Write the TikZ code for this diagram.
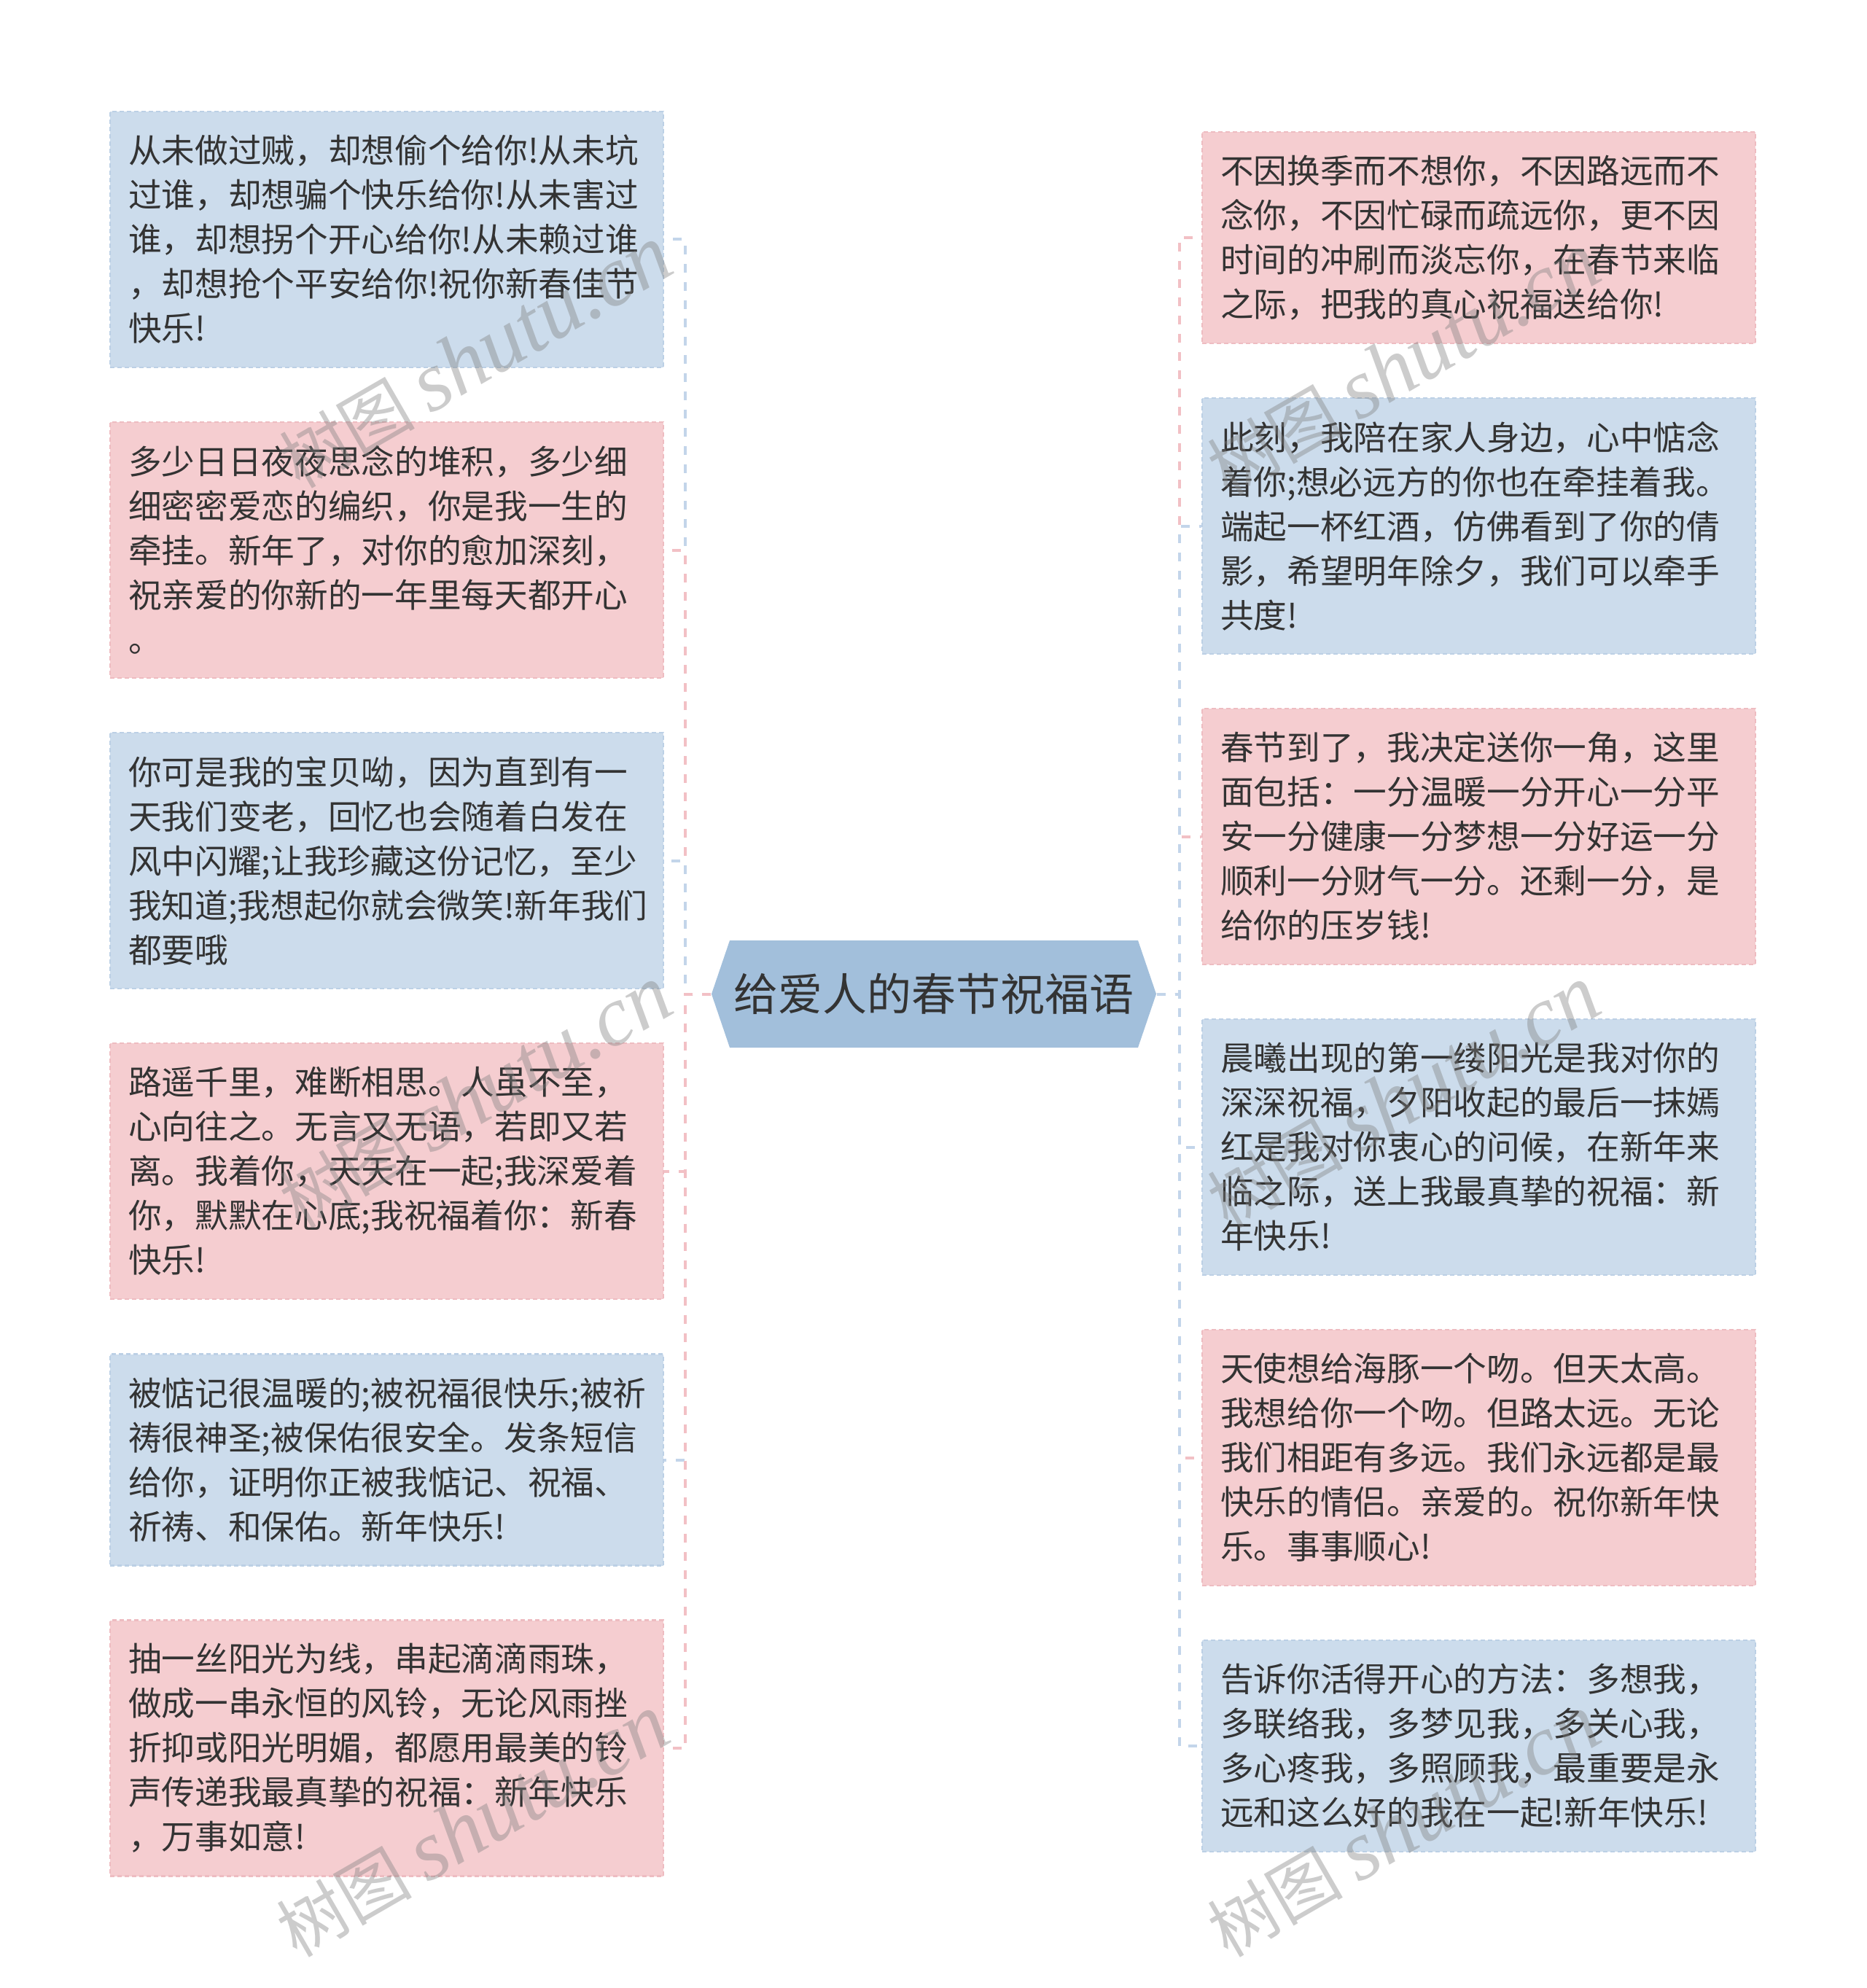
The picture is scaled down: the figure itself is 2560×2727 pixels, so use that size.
\documentclass[tikz,border=0pt]{standalone}
\usepackage{fontspec}
\newfontfamily\cjkf{Noto Sans CJK SC}
\newfontfamily\wmserif{Liberation Serif}
\definecolor{txt}{HTML}{333333}
\definecolor{bfill}{HTML}{CCDCEC}
\definecolor{bline}{HTML}{BCD0E5}
\definecolor{pfill}{HTML}{F5CDD0}
\definecolor{pline}{HTML}{EEBCC1}
\definecolor{bconnc}{HTML}{C3D5EA}
\definecolor{pconnc}{HTML}{F2C0C5}
\definecolor{hexfill}{HTML}{A2BFDB}
\newcommand{\boxfont}{\cjkf\fontsize{13.7pt}{18.3pt}\selectfont}
\newcommand{\wmtext}{{\cjkf\fontsize{28pt}{32pt}\selectfont 树图}\hspace{6pt}{\wmserif\itshape shutu.cn}}
\tikzset{
  box/.style={rectangle, text width=212.7pt, inner xsep=7.5pt, inner ysep=0pt,
    align=left, font=\boxfont, text=txt, line width=0.8pt,
    dash pattern=on 1.8pt off 1.2pt},
  bbox/.style={box, fill=bfill, draw=bline},
  pbox/.style={box, fill=pfill, draw=pline},
  fiveln/.style={minimum height=105.3pt},
  fourln/.style={minimum height=87pt},
  conn/.style={line width=1.2pt, dash pattern=on 3.6pt off 3.9pt},
  bconn/.style={conn, draw=bconnc},
  pconn/.style={conn, draw=pconnc},
  hubnode/.style={rectangle, minimum width=183pt, minimum height=44.1pt, inner sep=0pt,
    font=\cjkf\fontsize{18.3pt}{22pt}\selectfont, text=txt},
  wmark/.style={rotate=30, text=black!50, text opacity=0.4, inner sep=0pt,
    font=\fontsize{35pt}{40pt}\selectfont}
}
\begin{document}
\begin{tikzpicture}[x=0.3pt, y=-0.3pt]
\useasboundingbox (0,0) rectangle (2560,2727);
\fill[white] (0,0) rectangle (2560,2727);

% hub hexagon
\fill[hexfill] (976,1363.5) -- (1001,1290) -- (1561,1290) -- (1586,1363.5)
  -- (1561,1437) -- (1001,1437) -- cycle;
\node[hubnode] (c) at (1281,1363.5) {给爱人的春节祝福语};

% left boxes
\node[bbox, fiveln] (l1) at (530.5,328.5) {从未做过贼，却想偷个给你!从未坑\\过谁，却想骗个快乐给你!从未害过\\谁，却想拐个开心给你!从未赖过谁\\，却想抢个平安给你!祝你新春佳节\\快乐!};
\node[pbox, fiveln] (l2) at (530.5,754.5) {多少日日夜夜思念的堆积，多少细\\细密密爱恋的编织，你是我一生的\\牵挂。新年了，对你的愈加深刻，\\祝亲爱的你新的一年里每天都开心\\。};
\node[bbox, fiveln] (l3) at (530.5,1180.5) {你可是我的宝贝呦，因为直到有一\\天我们变老，回忆也会随着白发在\\风中闪耀;让我珍藏这份记忆，至少\\我知道;我想起你就会微笑!新年我们\\都要哦};
\node[pbox, fiveln] (l4) at (530.5,1606.5) {路遥千里，难断相思。人虽不至，\\心向往之。无言又无语，若即又若\\离。我着你，天天在一起;我深爱着\\你，默默在心底;我祝福着你：新春\\快乐!};
\node[bbox, fourln] (l5) at (530.5,2002.5) {被惦记很温暖的;被祝福很快乐;被祈\\祷很神圣;被保佑很安全。发条短信\\给你，证明你正被我惦记、祝福、\\祈祷、和保佑。新年快乐!};
\node[pbox, fiveln] (l6) at (530.5,2398) {抽一丝阳光为线，串起滴滴雨珠，\\做成一串永恒的风铃，无论风雨挫\\折抑或阳光明媚，都愿用最美的铃\\声传递我最真挚的祝福：新年快乐\\，万事如意!};

% right boxes
\node[pbox, fourln] (r1) at (2028.5,326) {不因换季而不想你，不因路远而不\\念你，不因忙碌而疏远你，更不因\\时间的冲刷而淡忘你，在春节来临\\之际，把我的真心祝福送给你!};
\node[bbox, fiveln] (r2) at (2028.5,721.5) {此刻，我陪在家人身边，心中惦念\\着你;想必远方的你也在牵挂着我。\\端起一杯红酒，仿佛看到了你的倩\\影，希望明年除夕，我们可以牵手\\共度!};
\node[pbox, fiveln] (r3) at (2028.5,1147.5) {春节到了，我决定送你一角，这里\\面包括：一分温暖一分开心一分平\\安一分健康一分梦想一分好运一分\\顺利一分财气一分。还剩一分，是\\给你的压岁钱!};
\node[bbox, fiveln] (r4) at (2028.5,1573.5) {晨曦出现的第一缕阳光是我对你的\\深深祝福，夕阳收起的最后一抹嫣\\红是我对你衷心的问候，在新年来\\临之际，送上我最真挚的祝福：新\\年快乐!};
\node[pbox, fiveln] (r5) at (2028.5,1999.5) {天使想给海豚一个吻。但天太高。\\我想给你一个吻。但路太远。无论\\我们相距有多远。我们永远都是最\\快乐的情侣。亲爱的。祝你新年快\\乐。事事顺心!};
\node[bbox, fourln] (r6) at (2028.5,2395) {告诉你活得开心的方法：多想我，\\多联络我，多梦见我，多关心我，\\多心疼我，多照顾我，最重要是永\\远和这么好的我在一起!新年快乐!};

% connectors left
\draw[bconn] (c.west) -- ++(-35,0) |- (l1.east);
\draw[pconn] (c.west) -- ++(-35,0) |- (l2.east);
\draw[bconn] (c.west) -- ++(-35,0) |- (l3.east);
\draw[pconn] (c.west) -- ++(-35,0) |- (l4.east);
\draw[bconn] (c.west) -- ++(-35,0) |- (l5.east);
\draw[pconn] (c.west) -- ++(-35,0) |- (l6.east);
% connectors right
\draw[pconn] (c.east) -- ++(31,0) |- (r1.west);
\draw[pconn] (c.east) -- ++(31,0) |- (r3.west);
\draw[bconn] (c.east) -- ++(31,0) |- (r2.west);
\draw[bconn] (c.east) -- ++(31,0) |- (r4.west);
\draw[pconn] (c.east) -- ++(31,0) |- (r5.west);
\draw[bconn] (c.east) -- ++(31,0) |- (r6.west);

% watermarks
\node[wmark] (w1) at (652,490) {\wmtext};
\node[wmark] (w2) at (1925,500) {\wmtext};
\node[wmark] (w3) at (652,1505) {\wmtext};
\node[wmark] (w4) at (1925,1505) {\wmtext};
\node[wmark] (w5) at (648,2505) {\wmtext};
\node[wmark] (w6) at (1925,2505) {\wmtext};
\end{tikzpicture}
\end{document}
